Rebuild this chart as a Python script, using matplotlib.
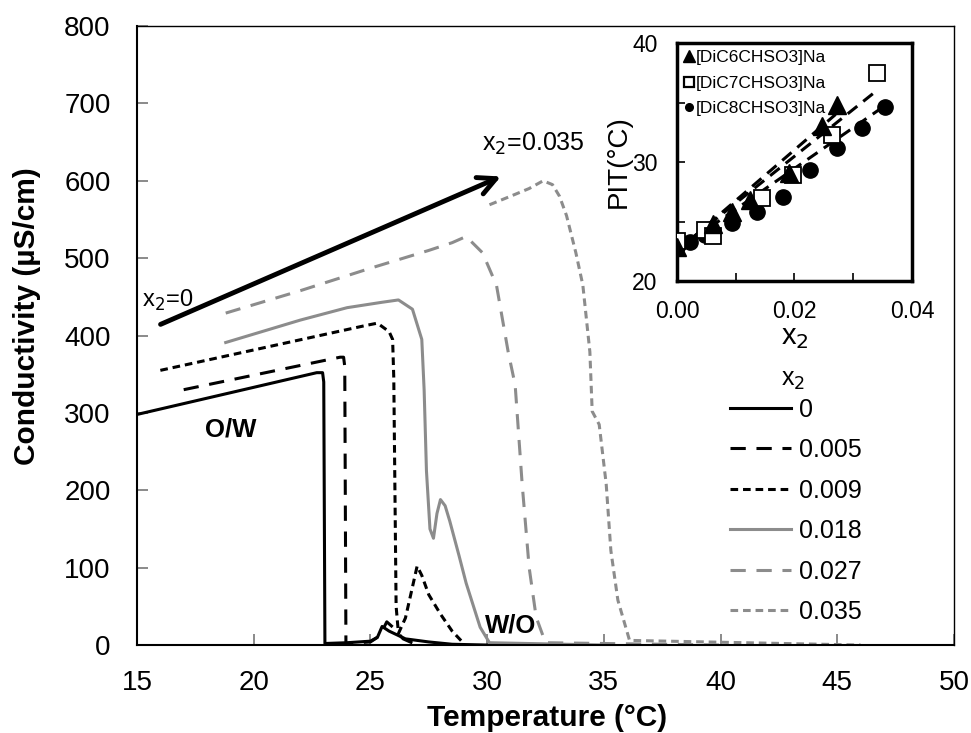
import matplotlib
matplotlib.use("Agg")
import matplotlib.pyplot as plt
from matplotlib.lines import Line2D

plt.rcParams['font.family'] = ['Liberation Sans', 'DejaVu Sans']

# conductivity curves, temperature (°C) vs conductivity (µS/cm)
t_000 = [15, 22.7, 22.95, 23.0, 23.05, 24.0, 25.0, 25.3, 25.5, 25.8, 26.5, 27.5, 28.5, 30.0]
c_000 = [298, 352, 352, 340, 2, 3, 5, 10, 24, 18, 8, 4, 1, 0]

t_005 = [17, 23.7, 23.85, 23.9, 23.95, 25.0, 25.4, 25.7, 26.0, 26.4, 27.0]
c_005 = [330, 372, 372, 360, 2, 4, 12, 30, 22, 8, 0]

t_009 = [16, 24.8, 25.3, 25.8, 25.95, 26.0, 26.1, 26.2, 26.5, 26.8, 27.0, 27.2, 27.5, 28.0, 28.5, 29.0]
c_009 = [355, 413, 416, 405, 395, 345, 50, 15, 35, 75, 102, 90, 65, 40, 18, 2]

t_018 = [18.8, 22, 24, 25.5, 26.2, 26.8, 27.2, 27.3, 27.4, 27.55, 27.7, 27.85, 28.0, 28.2, 28.4, 28.8, 29.1, 29.7, 30.1, 35]
c_018 = [391, 420, 436, 443, 446, 434, 395, 330, 225, 150, 138, 170, 188, 180, 160, 115, 80, 23, 3, 0]

t_027 = [18.8, 22, 25, 27.5, 28.5, 29.1, 29.8, 30.4, 30.9, 31.2, 31.5, 31.8, 32.1, 32.5, 40]
c_027 = [429, 458, 487, 510, 520, 528, 507, 465, 379, 336, 208, 100, 36, 3, 0]

t_035 = [30.1, 31.0, 31.8, 32.4, 32.8, 33.1, 33.4, 33.8, 34.1, 34.4, 34.5, 34.8, 35.1, 35.3, 35.6, 36.1, 46]
c_035 = [569, 580, 590, 600, 595, 580, 555, 507, 465, 379, 302, 285, 208, 122, 58, 6, 0]

legend_labels = ["0", "0.005", "0.009", "0.018", "0.027", "0.035"]

# inset: PIT vs x2
c6_x = [0.0, 0.0061, 0.0094, 0.0124, 0.0190, 0.0247, 0.0272]
c6_y = [22.9, 24.8, 25.8, 26.8, 29.1, 33.0, 34.8]
c7_x = [0.0, 0.0048, 0.0061, 0.0145, 0.0198, 0.0264, 0.0340]
c7_y = [23.4, 24.3, 23.8, 27.0, 28.9, 32.3, 37.5]
c8_x = [0.0, 0.0022, 0.0048, 0.0094, 0.0136, 0.0180, 0.0226, 0.0272, 0.0315, 0.0354]
c8_y = [22.9, 23.3, 23.9, 24.9, 25.8, 27.1, 29.3, 31.2, 32.9, 34.6]
fit6_x = [0.0, 0.027]
fit6_y = [22.5, 34.0]
fit7_x = [0.0, 0.034]
fit7_y = [22.6, 36.0]
fit8_x = [0.0, 0.035]
fit8_y = [22.6, 34.6]

gray = '#8c8c8c'

fig = plt.figure(figsize=(9.71, 7.33), dpi=100)
ax = fig.add_axes([0.1411, 0.1200, 0.8414, 0.8445])

lw = 2.2
ax.plot(t_000, c_000, color='black', lw=lw, label=legend_labels[0])
ax.plot(t_005, c_005, color='black', lw=lw, dashes=(5, 3.5), label=legend_labels[1])
ax.plot(t_009, c_009, color='black', lw=lw, dashes=(2.5, 1.6), label=legend_labels[2])
ax.plot(t_018, c_018, color=gray, lw=lw, label=legend_labels[3])
ax.plot(t_027, c_027, color=gray, lw=lw, dashes=(5, 3.5), label=legend_labels[4])
ax.plot(t_035, c_035, color=gray, lw=lw, dashes=(2.5, 1.6), label=legend_labels[5])

ax.set_xlim(15, 50)
ax.set_ylim(0, 800)
ax.set_xticks(range(15, 51, 5))
ax.set_yticks(range(0, 801, 100))
ax.tick_params(direction='in', length=8, width=1.2, color='#777777', labelsize=20)
ax.tick_params(axis='x', pad=18)
ax.tick_params(axis='y', pad=19)
for s in ['left', 'bottom']:
    ax.spines[s].set_linewidth(1.5)
for s in ['top', 'right']:
    ax.spines[s].set_linewidth(1.0)
ax.set_xlabel("Temperature (°C)", fontsize=21.5, fontweight='bold')
ax.set_ylabel("Conductivity (µS/cm)", fontsize=21.5, fontweight='bold')
ax.xaxis.label.set_va('center')
ax.yaxis.label.set_va('center')
ax.xaxis.set_label_coords(0.502, -0.118)
ax.yaxis.set_label_coords(-0.1346, 0.531)

ax.annotate('', xy=(30.7, 607), xytext=(15.9, 413),
            arrowprops=dict(arrowstyle='->', lw=3.5, mutation_scale=32, color='black'))
ax.text(15.2, 446, "x$_2$=0", fontsize=17, ha='left', va='center')
ax.text(29.8, 648, "x$_2$=0.035", fontsize=18, ha='left', va='center')
ax.text(19.0, 278, "O/W", fontsize=18.5, fontweight='bold', ha='center', va='center')
ax.text(31.0, 25, "W/O", fontsize=18.5, fontweight='bold', ha='center', va='center')

leg = ax.legend(loc='upper left', bbox_to_anchor=(0.752, 0.4575), bbox_transform=fig.transFigure,
                frameon=False, fontsize=18,
                handlelength=2.45, handletextpad=0.3, labelspacing=0.66,
                borderpad=0, borderaxespad=0)
fig.text(0.817, 0.482, "x$_2$", fontsize=18, ha='center', va='center')

# inset
ins = fig.add_axes([0.6972, 0.6166, 0.2420, 0.3247])
ins.plot(fit6_x, fit6_y, color='black', lw=2.2, dashes=(4, 2.5))
ins.plot(fit7_x, fit7_y, color='black', lw=2.2, dashes=(4, 2.5))
ins.plot(fit8_x, fit8_y, color='black', lw=2.2, dashes=(4, 2.5))
ins.plot(c8_x, c8_y, 'o', color='black', ms=11, zorder=3)
ins.plot(c7_x, c7_y, 's', mfc='white', mec='black', mew=1.3, ms=12, zorder=4)
ins.plot(c6_x, c6_y, '^', color='black', ms=13, zorder=5)
ins.set_xlim(0, 0.04)
ins.set_ylim(20, 40)
ins.set_xticks([0.0, 0.01, 0.02, 0.03, 0.04])
ins.set_xticklabels(["0.00", "", "0.02", "", "0.04"])
ins.set_yticks([20, 25, 30, 35, 40])
ins.set_yticklabels(["20", "", "30", "", "40"])
ins.tick_params(direction='in', length=6, width=1.2, labelsize=16.5)
ins.tick_params(axis='x', pad=14)
ins.tick_params(axis='y', pad=14)
for s in ins.spines.values():
    s.set_linewidth(2.5)
ins.set_xlabel("x$_2$", fontsize=21, labelpad=0)
ins.set_ylabel("PIT(°C)", fontsize=20, labelpad=0)

ins_handles = [
    Line2D([], [], ls='none', marker='^', color='black', ms=8),
    Line2D([], [], ls='none', marker='s', mfc='white', mec='black', mew=1.6, ms=6.5),
    Line2D([], [], ls='none', marker='o', color='black', ms=5.5),
]
ins.legend(ins_handles, ["[DiC6CHSO3]Na", "[DiC7CHSO3]Na", "[DiC8CHSO3]Na"],
           loc='upper left', frameon=False, fontsize=12.5, handlelength=0.6,
           handletextpad=0.1, labelspacing=0.6, borderpad=0.3, borderaxespad=0.1)

fig.savefig("out.png", dpi=100)
